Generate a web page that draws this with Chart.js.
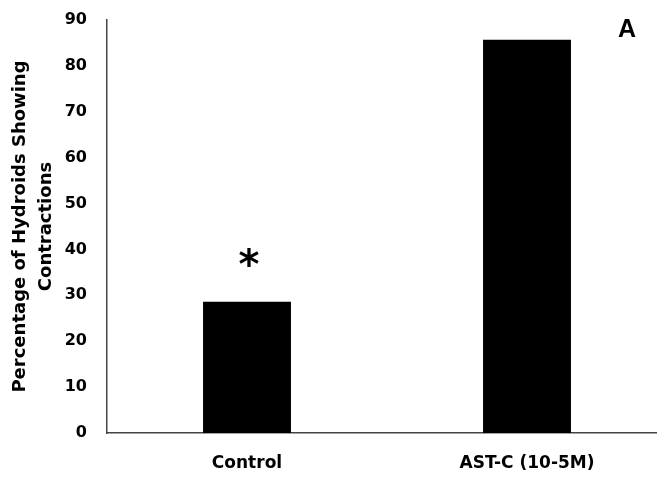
<!DOCTYPE html>
<html>
<head>
<meta charset="utf-8">
<script src="https://cdn.jsdelivr.net/npm/chart.js@4.4.1/dist/chart.umd.min.js"></script>
<style>
  html, body { margin: 0; padding: 0; background: #fff; overflow: hidden; }
  #wrap { width: 667px; height: 478px; }
</style>
</head>
<body>
<div id="wrap"><canvas id="chart" width="667" height="478"></canvas></div>
<script>
const categories = ['Control', 'AST-C (10-5M)'];
const values = [28.6, 85.7];
const marks = ['*', ''];
const yTicks = [0, 10, 20, 30, 40, 50, 60, 70, 80, 90];
const yTitle = ['Percentage of Hydroids Showing', 'Contractions'];
const panelLabel = 'A';

const FONT = "'DejaVu Sans', sans-serif";

// asterisk above bars + panel letter
const extras = {
    id: 'extras',
    afterDatasetsDraw(chart) {
        const ctx = chart.ctx;
        const meta = chart.getDatasetMeta(0);
        ctx.save();
        ctx.fillStyle = '#000';
        ctx.textAlign = 'center';
        ctx.textBaseline = 'middle';
        ctx.font = "bold 40px 'DejaVu Sans', sans-serif";
        meta.data.forEach((bar, i) => {
            if (marks[i]) ctx.fillText(marks[i], bar.x + 2, bar.y - 34);
        });
        ctx.font = "bold 25px 'Liberation Sans', Arial, sans-serif";
        ctx.fillText(panelLabel, 627, 30);
        ctx.restore();
    }
};

new Chart(document.getElementById('chart'), {
    type: 'bar',
    data: {
        labels: categories,
        datasets: [{
            data: values,
            backgroundColor: '#000',
            borderWidth: 0,
            barPercentage: 1,
            categoryPercentage: 0.314
        }]
    },
    options: {
        responsive: false,
        animation: false,
        layout: { padding: 0 },
        plugins: { legend: { display: false }, tooltip: { enabled: false } },
        scales: {
            x: {
                grid: { display: false, drawTicks: false },
                border: { display: true, color: '#444', width: 1.5 },
                ticks: { color: '#000', font: { family: FONT, size: 17, weight: 'bold' }, padding: 20 },
                afterFit: s => { s.height = 45; }
            },
            y: {
                min: 0,
                max: 90,
                afterBuildTicks: s => { s.ticks = yTicks.map(v => ({ value: v })); },
                grid: { display: false, drawTicks: false },
                border: { display: true, color: '#444', width: 1.5 },
                ticks: { color: '#000', font: { family: FONT, size: 16, weight: 'bold' }, padding: 20 },
                title: {
                    display: true,
                    text: yTitle,
                    color: '#000',
                    font: { family: FONT, size: 18, weight: 'bold', lineHeight: 1.45 },
                    padding: { top: 7, bottom: 0 }
                },
                afterFit: s => { s.width = 107; s.paddingTop = 20; s.paddingBottom = 0; }
            }
        }
    },
    plugins: [extras]
});
</script>
</body>
</html>
